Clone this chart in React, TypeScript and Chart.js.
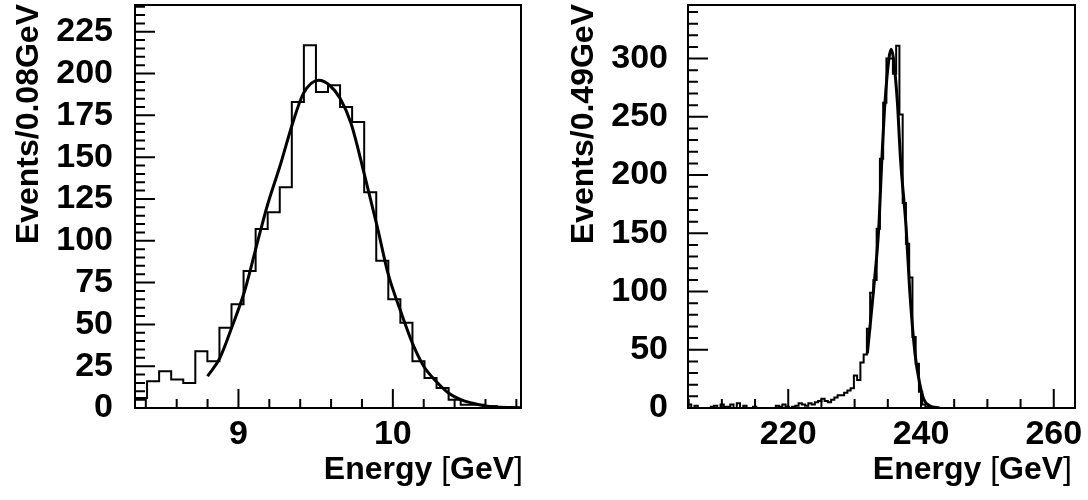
import { useEffect, useRef } from "react";
import { Chart, registerables } from "chart.js";

Chart.register(...registerables);

const FONT = "'Liberation Sans', Arial, Helvetica, sans-serif";

// left panel: 32 bins of 0.078 GeV starting at 8.33
const leftBinLow = 8.33;
const leftBinWidth = 0.078125;
const leftCounts = [
  6, 16, 22, 17, 15, 34, 28, 48, 62, 82, 107, 117, 132, 183, 217, 189,
  193, 180, 171, 129, 88, 65, 51, 28, 18, 12, 5, 2, 2, 1, 0, 0,
];
const leftFitX = [
  8.8, 8.88, 8.96, 9.04, 9.12, 9.19, 9.27, 9.35, 9.42, 9.52, 9.59, 9.66, 9.73,
  9.82, 9.9, 9.97, 10.05, 10.13, 10.2, 10.28, 10.36, 10.44, 10.51, 10.59,
  10.67, 10.83,
];
const leftFitY = [
  19, 30, 49, 70, 98, 122, 145, 170, 188, 196, 193, 185, 170, 138, 108, 80,
  58, 38, 25, 16, 9, 5, 3, 1.4, 0.6, 0.1,
];
const leftXTicks = [9, 10];
const leftYTicks = [0, 25, 50, 75, 100, 125, 150, 175, 200, 225];

// right panel: 119 bins of 0.49 GeV starting at 204.9
const rightBinLow = 204.9;
const rightBinWidth = 0.49;
const rightCounts = [
  3, 0, 2, 0, 0, 0, 0, 1, 2, 0,
  3, 1, 1, 3, 0, 4, 0, 2, 0, 0,
  1, 0, 0, 0, 0, 0, 0, 2, 1, 3,
  1, 0, 1, 2, 4, 3, 2, 4, 3, 5,
  6, 8, 6, 5, 7, 9, 11, 11, 13, 15,
  17, 28, 24, 39, 46, 68, 99, 110, 154, 214,
  262, 300, 300, 287, 311, 252, 176, 141, 112, 61,
  38, 14, 3, 1, 0, 0, 0, 0, 0, 0,
  0, 0, 0, 0, 0, 0, 0, 0, 0, 0,
  0, 0, 0, 0, 0, 0, 0, 0, 0, 0,
  0, 0, 0, 0, 0, 0, 0, 0, 0, 0,
  0, 0, 0, 0, 0, 0, 0, 0, 0,
];
const rightFitX = [
  231.92, 232.83, 233.63, 234.11, 234.57, 235.17, 235.5, 235.85, 236.45,
  236.91, 237.77, 238.31, 239.09, 239.77, 240.38, 241.28, 242.79,
];
const rightFitY = [
  47, 100, 154, 214, 262, 300, 308, 300, 262, 214, 154, 100, 47, 22, 8, 2, 0,
];
const rightXTicks = [220, 240, 260];
const rightYTicks = [0, 50, 100, 150, 200, 250, 300];

const histPoints = (low: number, width: number, counts: number[]) => {
  const pts = [{ x: low, y: 0 }];
  counts.forEach((c, i) => pts.push({ x: low + i * width, y: c }));
  const high = low + counts.length * width;
  pts.push({ x: high, y: counts[counts.length - 1] });
  pts.push({ x: high, y: 0 });
  return pts;
};

// ROOT-like frame, inward ticks and axis titles
const rootAxes = {
  id: "rootAxes",
  afterDraw(chart: Chart, _args: unknown, opts: any) {
    const { ctx, chartArea: a } = chart;
    const xs = chart.scales.x;
    const ys = chart.scales.y;
    const isMajor = (list: number[], v: number) =>
      list.some((t) => Math.abs(t - v) < 1e-6);

    ctx.save();
    ctx.strokeStyle = "#000";
    ctx.lineWidth = 2;
    ctx.strokeRect(a.left, a.top, a.right - a.left, a.bottom - a.top);

    ctx.beginPath();
    for (let i = 0; ; i++) {
      const v = opts.yMinorStart + i * opts.yMinorStep;
      if (v > ys.max + 1e-9) break;
      const p = ys.getPixelForValue(v);
      ctx.moveTo(a.left, p);
      ctx.lineTo(a.left + (isMajor(opts.yTicks, v) ? 20 : 10), p);
    }
    for (let i = 0; ; i++) {
      const v = opts.xMinorStart + i * opts.xMinorStep;
      if (v > xs.max + 1e-9) break;
      const p = xs.getPixelForValue(v);
      ctx.moveTo(p, a.bottom);
      ctx.lineTo(p, a.bottom - (isMajor(opts.xTicks, v) ? 19 : 9));
    }
    ctx.stroke();

    // x title, brackets in normal weight like TLatex
    ctx.fillStyle = "#000";
    ctx.textBaseline = "alphabetic";
    ctx.textAlign = "left";
    const parts: [string, boolean][] = [
      ["Energy ", true],
      ["[", false],
      ["GeV", true],
      ["]", false],
    ];
    const fontOf = (b: boolean) => `${b ? "bold " : ""}32px ${FONT}`;
    let total = 0;
    parts.forEach(([t, b]) => {
      ctx.font = fontOf(b);
      total += ctx.measureText(t).width;
    });
    let x = a.right + opts.xTitleShift - total;
    parts.forEach(([t, b]) => {
      ctx.font = fontOf(b);
      ctx.fillText(t, x, 479);
      x += ctx.measureText(t).width;
    });

    // y title
    ctx.translate(opts.yTitleX, a.top - 1);
    ctx.rotate(-Math.PI / 2);
    ctx.textAlign = "right";
    ctx.font = `bold 32px ${FONT}`;
    ctx.fillText(opts.yTitle, 0, 0);
    ctx.restore();
  },
};

type PanelProps = {
  binLow: number;
  binWidth: number;
  counts: number[];
  fitX: number[];
  fitY: number[];
  xMin: number;
  xMax: number;
  yMax: number;
  xTicks: number[];
  yTicks: number[];
  xMinorStart: number;
  xMinorStep: number;
  yMinorStep: number;
  yTitle: string;
  yTitleX: number;
  axisWidth: number;
  padRight: number;
  yLabelPad: number;
  xTitleShift: number;
};

const Panel = (p: PanelProps) => {
  const canvasRef = useRef<HTMLCanvasElement | null>(null);

  useEffect(() => {
    if (!canvasRef.current) return;
    const tickFont = { family: FONT, weight: "bold" as const, size: 34 };

    const chart = new Chart(canvasRef.current, {
      type: "line",
      data: {
        datasets: [
          {
            data: p.fitX.map((x, i) => ({ x, y: p.fitY[i] })),
            borderColor: "#000",
            borderWidth: 3,
            pointRadius: 0,
            cubicInterpolationMode: "monotone",
            fill: false,
          },
          {
            data: histPoints(p.binLow, p.binWidth, p.counts),
            borderColor: "#000",
            borderWidth: 2,
            pointRadius: 0,
            stepped: true,
            fill: false,
          },
        ],
      },
      options: {
        animation: false,
        responsive: false,
        layout: { padding: { top: 5, right: p.padRight, left: 0, bottom: 0 } },
        plugins: {
          legend: { display: false },
          tooltip: { enabled: false },
          rootAxes: {
            xTicks: p.xTicks,
            yTicks: p.yTicks,
            xMinorStart: p.xMinorStart,
            xMinorStep: p.xMinorStep,
            yMinorStart: 0,
            yMinorStep: p.yMinorStep,
            yTitle: p.yTitle,
            yTitleX: p.yTitleX,
            xTitleShift: p.xTitleShift,
          },
        } as any,
        scales: {
          x: {
            type: "linear",
            min: p.xMin,
            max: p.xMax,
            afterBuildTicks: (s: any) => {
              s.ticks = p.xTicks.map((value) => ({ value }));
            },
            afterFit: (s: any) => {
              s.height = 92;
              s.paddingLeft = 0;
              s.paddingRight = 0;
            },
            grid: { display: false, drawTicks: false },
            border: { display: false },
            ticks: {
              color: "#000",
              font: tickFont,
              padding: 6,
              maxRotation: 0,
              autoSkip: false,
            },
          },
          y: {
            type: "linear",
            min: 0,
            max: p.yMax,
            afterBuildTicks: (s: any) => {
              s.ticks = p.yTicks.map((value) => ({ value }));
            },
            afterFit: (s: any) => {
              s.width = p.axisWidth;
              s.paddingTop = 0;
              s.paddingBottom = 0;
            },
            grid: { display: false, drawTicks: false },
            border: { display: false },
            ticks: {
              color: "#000",
              font: tickFont,
              padding: p.yLabelPad,
              autoSkip: false,
            },
          },
        },
      },
      plugins: [rootAxes],
    });

    return () => {
      chart.destroy();
    };
  }, []);

  return (
    <canvas
      ref={canvasRef}
      width={544}
      height={500}
      style={{ display: "block", width: 544, height: 500 }}
    ></canvas>
  );
};

const App = () => {
  return (
    <div
      style={{
        position: "fixed",
        left: 0,
        top: 0,
        width: 1088,
        height: 500,
        background: "#fff",
        display: "flex",
      }}
    >
      <Panel
        binLow={leftBinLow}
        binWidth={leftBinWidth}
        counts={leftCounts}
        fitX={leftFitX}
        fitY={leftFitY}
        xMin={8.33}
        xMax={10.83}
        yMax={241}
        xTicks={leftXTicks}
        yTicks={leftYTicks}
        xMinorStart={8.4}
        xMinorStep={0.2}
        yMinorStep={5}
        yTitle="Events/0.08GeV"
        yTitleX={38}
        axisWidth={135}
        padRight={23}
        yLabelPad={22}
        xTitleShift={2}
      />
      <Panel
        binLow={rightBinLow}
        binWidth={rightBinWidth}
        counts={rightCounts}
        fitX={rightFitX}
        fitY={rightFitY}
        xMin={204.9}
        xMax={263.2}
        yMax={346}
        xTicks={rightXTicks}
        yTicks={rightYTicks}
        xMinorStart={205}
        xMinorStep={5}
        yMinorStep={10}
        yTitle="Events/0.49GeV"
        yTitleX={49}
        axisWidth={144}
        padRight={13}
        yLabelPad={20}
        xTitleShift={-3}
      />
    </div>
  );
};

export default App;
